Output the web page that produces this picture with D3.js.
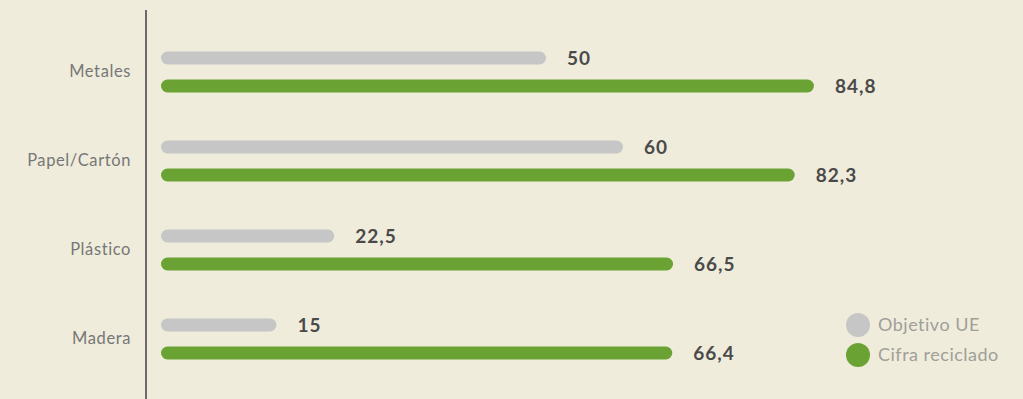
<!DOCTYPE html>
<html>
<head>
<meta charset="utf-8">
<script src="https://cdn.jsdelivr.net/npm/d3@7"></script>
<style>
  html, body { margin: 0; padding: 0; background: #efecdc; }
  svg { display: block; }
</style>
</head>
<body>
<svg id="chart" width="1023" height="399"></svg>
<script>
// Materials and recycling figures (%)
const categories = ["Metales", "Papel/Cartón", "Plástico", "Madera"];
const seriesNames = ["Objetivo UE", "Cifra reciclado"];
const objetivoUE = [50, 60, 22.5, 15];
const cifraReciclado = [84.8, 82.3, 66.5, 66.4];
const seriesColors = ["#c6c6c6", "#6aa333"];

const width = 1023, height = 399;
const svg = d3.select("#chart");
svg.append("rect").attr("width", width).attr("height", height).attr("fill", "#efecdc");

const es = d3.formatLocale({ decimal: ",", thousands: ".", grouping: [3], currency: ["", " €"] });
const fmt = v => Number.isInteger(v) ? es.format("d")(v) : es.format(".1f")(v);

const x = d3.scaleLinear().domain([0, 100]).range([161, 931]);
const y0 = d3.scaleBand().domain(categories).range([27.5, 383.5]);
const y1 = d3.scalePoint().domain(seriesNames).range([30.5, 58.5]);
const color = d3.scaleOrdinal().domain(seriesNames).range(seriesColors);
const barH = 13;

const rows = categories.map((c, i) => ({
  category: c,
  values: [
    { series: seriesNames[0], value: objetivoUE[i] },
    { series: seriesNames[1], value: cifraReciclado[i] }
  ]
}));

const groups = svg.selectAll("g.group")
  .data(rows)
  .join("g")
  .attr("class", "group")
  .attr("transform", d => `translate(0,${y0(d.category)})`);

groups.selectAll("rect.bar")
  .data(d => d.values)
  .join("rect")
  .attr("class", "bar")
  .attr("x", x(0))
  .attr("y", d => y1(d.series) - barH / 2)
  .attr("width", d => x(d.value) - x(0))
  .attr("height", barH)
  .attr("rx", barH / 2)
  .attr("fill", d => color(d.series));

groups.selectAll("text.value")
  .data(d => d.values)
  .join("text")
  .attr("class", "value")
  .attr("x", d => x(d.value) + 21)
  .attr("y", d => y1(d.series))
  .attr("dy", "0.36em")
  .attr("fill", "#4a4a4a")
  .attr("font-family", "Lato, 'Open Sans', sans-serif")
  .attr("font-weight", "bold")
  .attr("font-size", 19)
  .attr("letter-spacing", "1px")
  .text(d => fmt(d.value));

// Category axis
const axis = d3.axisLeft(y0).tickSize(0).tickPadding(15);
const axisG = svg.append("g")
  .attr("transform", `translate(146,0)`)
  .call(axis);
axisG.select(".domain").remove();
axisG.selectAll("text")
  .attr("fill", "#777")
  .attr("font-family", "Lato, 'Open Sans', sans-serif")
  .attr("font-size", 16.5)
  .attr("letter-spacing", "0.6px");
svg.append("line")
  .attr("x1", 146).attr("x2", 146)
  .attr("y1", 10).attr("y2", height)
  .attr("stroke", "#6b6b6b")
  .attr("stroke-width", 2);

// Legend
const legend = svg.append("g").attr("transform", "translate(858,325)");
const items = legend.selectAll("g")
  .data(seriesNames)
  .join("g")
  .attr("transform", (d, i) => `translate(0,${i * 30})`);
items.append("circle").attr("r", 12).attr("fill", d => color(d));
items.append("text")
  .attr("x", 20)
  .attr("dy", "0.35em")
  .attr("fill", "#a09f98")
  .attr("font-family", "Lato, 'Open Sans', sans-serif")
  .attr("font-size", 18)
  .attr("letter-spacing", "0.5px")
  .text(d => d);
</script>
</body>
</html>
